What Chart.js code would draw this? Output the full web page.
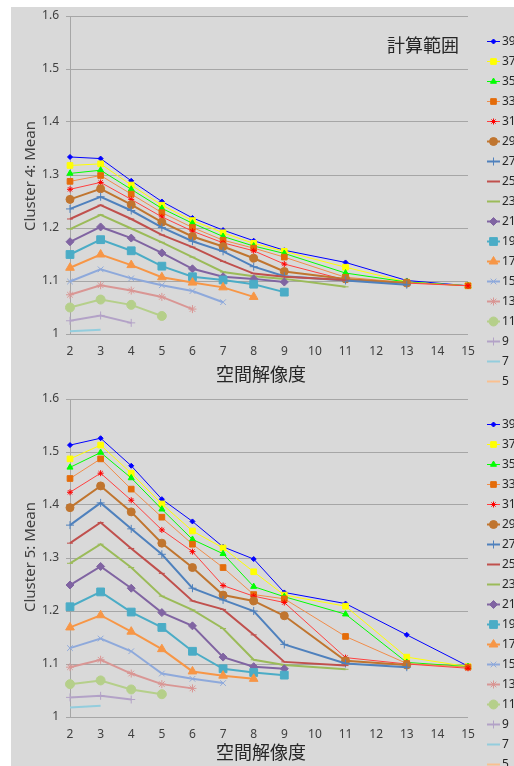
<!DOCTYPE html>
<html>
<head>
<meta charset="utf-8">
<script src="https://cdn.jsdelivr.net/npm/chart.js@4.4.1/dist/chart.umd.min.js"></script>
<style>
    body { margin: 0; background: #ffffff; }
    #bg { position: absolute; left: 11px; top: 7px; width: 503px; height: 759px; background: #d9d9d9; }
    canvas { position: absolute; left: 0; }
    #chart4 { top: 0; }
    #chart5 { top: 383px; }
</style>
</head>
<body>
<div id="bg"></div>
<canvas id="chart4" width="514" height="395"></canvas>
<canvas id="chart5" width="514" height="383"></canvas>
<script>
// x positions (spatial resolution) shared by every series
const resolution = [2, 3, 4, 5, 6, 7, 8, 9, 11, 13, 15];
// calculation range, one series each (legend order)
const ranges = [39, 37, 35, 33, 31, 29, 27, 25, 23, 21, 19, 17, 15, 13, 11, 9, 7, 5];

// Cluster 4: Mean
const c4_39 = [1.334, 1.331, 1.289, 1.250, 1.219, 1.196, 1.176, 1.158, 1.135, 1.101, 1.091];
const c4_37 = [1.318, 1.321, 1.281, 1.243, 1.214, 1.191, 1.171, 1.156, 1.126, 1.098, 1.091];
const c4_35 = [1.303, 1.309, 1.273, 1.237, 1.209, 1.184, 1.166, 1.152, 1.115, 1.098, 1.091];
const c4_33 = [1.288, 1.299, 1.264, 1.229, 1.201, 1.177, 1.162, 1.145, 1.107, 1.097, 1.091];
const c4_31 = [1.273, 1.286, 1.254, 1.221, 1.194, 1.172, 1.157, 1.132, 1.102, 1.096, 1.091];
const c4_29 = [1.254, 1.274, 1.244, 1.211, 1.184, 1.165, 1.143, 1.118, 1.104, 1.096];
const c4_27 = [1.236, 1.259, 1.233, 1.201, 1.175, 1.156, 1.127, 1.109, 1.101, 1.093];
const c4_25 = [1.217, 1.243, 1.217, 1.187, 1.164, 1.137, 1.114, 1.108, 1.102];
const c4_23 = [1.198, 1.225, 1.199, 1.173, 1.145, 1.117, 1.109, 1.104, 1.089];
const c4_21 = [1.174, 1.202, 1.181, 1.153, 1.123, 1.108, 1.104, 1.098];
const c4_19 = [1.150, 1.178, 1.157, 1.128, 1.108, 1.102, 1.094, 1.079];
const c4_17 = [1.125, 1.150, 1.130, 1.107, 1.097, 1.088, 1.070];
const c4_15 = [1.099, 1.122, 1.105, 1.092, 1.081, 1.060];
const c4_13 = [1.074, 1.092, 1.082, 1.070, 1.047];
const c4_11 = [1.050, 1.065, 1.055, 1.034];
const c4_9 = [1.025, 1.035, 1.021];
const c4_7 = [1.005, 1.008];
const c4_5 = [1.000];

// Cluster 5: Mean
const c5_39 = [1.513, 1.526, 1.474, 1.411, 1.369, 1.321, 1.298, 1.235, 1.214, 1.155, 1.096];
const c5_37 = [1.487, 1.513, 1.460, 1.402, 1.351, 1.319, 1.274, 1.230, 1.209, 1.113, 1.095];
const c5_35 = [1.471, 1.499, 1.451, 1.392, 1.335, 1.308, 1.246, 1.227, 1.194, 1.103, 1.095];
const c5_33 = [1.450, 1.487, 1.430, 1.377, 1.326, 1.282, 1.231, 1.223, 1.152, 1.101, 1.094];
const c5_31 = [1.424, 1.460, 1.409, 1.353, 1.312, 1.248, 1.228, 1.216, 1.112, 1.100, 1.092];
const c5_29 = [1.395, 1.436, 1.387, 1.328, 1.282, 1.230, 1.219, 1.191, 1.106, 1.098];
const c5_27 = [1.362, 1.404, 1.355, 1.307, 1.243, 1.221, 1.200, 1.137, 1.101, 1.094];
const c5_25 = [1.328, 1.367, 1.318, 1.271, 1.219, 1.203, 1.155, 1.104, 1.097];
const c5_23 = [1.290, 1.326, 1.282, 1.228, 1.202, 1.167, 1.108, 1.098, 1.090];
const c5_21 = [1.249, 1.284, 1.243, 1.197, 1.172, 1.113, 1.095, 1.091];
const c5_19 = [1.208, 1.236, 1.198, 1.169, 1.124, 1.091, 1.084, 1.079];
const c5_17 = [1.169, 1.192, 1.161, 1.128, 1.086, 1.078, 1.072];
const c5_15 = [1.130, 1.148, 1.124, 1.082, 1.072, 1.064];
const c5_13 = [1.094, 1.108, 1.082, 1.062, 1.054];
const c5_11 = [1.062, 1.069, 1.052, 1.043];
const c5_9 = [1.037, 1.040, 1.033];
const c5_7 = [1.018, 1.021];
const c5_5 = [1.004];

const cluster4 = [c4_39, c4_37, c4_35, c4_33, c4_31, c4_29, c4_27, c4_25, c4_23, c4_21, c4_19, c4_17, c4_15, c4_13, c4_11, c4_9, c4_7, c4_5];
const cluster5 = [c5_39, c5_37, c5_35, c5_33, c5_31, c5_29, c5_27, c5_25, c5_23, c5_21, c5_19, c5_17, c5_15, c5_13, c5_11, c5_9, c5_7, c5_5];

// line colour, marker colour, marker style, marker radius, line width
const styles = [
    ["#0000ff", "#0000ff", "rectRot", 2.5, 1],
    ["#ffff00", "#ffff00", "rect", 4, 1],
    ["#00ff00", "#00ff00", "triangle", 3.5, 1],
    ["#f08c4a", "#e46c0a", "rect", 4, 1],
    ["#ff4040", "#ff0000", "star", 3, 1],
    ["#c0752f", "#c0752f", "circle", 4, 2],
    ["#4f81bd", "#4f81bd", "cross", 4, 2],
    ["#c0504d", "#c0504d", "line", 3, 2],
    ["#9bbb59", "#9bbb59", "line", 3, 2],
    ["#8064a2", "#8064a2", "rectRot", 4, 2],
    ["#4bacc6", "#4bacc6", "rect", 5.5, 2],
    ["#f79646", "#f79646", "triangle", 5, 2],
    ["#8ea9db", "#8ea9db", "crossRot", 4, 2],
    ["#d99694", "#d99694", "star", 4, 2],
    ["#b5cf8a", "#b5cf8a", "circle", 4.5, 2],
    ["#b3a2c7", "#b3a2c7", "cross", 4, 2],
    ["#93cddd", "#93cddd", "circle", 0, 2],
    ["#fac090", "#fac090", "circle", 0, 2]
];

const FONT = "'Noto Sans', 'DejaVu Sans', sans-serif";
const CJK = "'Noto Sans CJK JP', 'Noto Sans CJK SC', sans-serif";

const extras = {
    id: "extras",
    afterDraw(chart, args, opts) {
        const ctx = chart.ctx;
        ctx.save();
        // y axis title
        ctx.fillStyle = "#404040";
        ctx.font = `15px ${FONT}`;
        ctx.textAlign = "center";
        ctx.textBaseline = "middle";
        ctx.translate(31, opts.yTitleY);
        ctx.rotate(-Math.PI / 2);
        ctx.fillText(opts.yTitle, 0, 0);
        ctx.restore();

        ctx.save();
        ctx.fillStyle = "#262626";
        ctx.font = `18px ${CJK}`;
        ctx.textAlign = "center";
        ctx.textBaseline = "middle";
        ctx.fillText("空間解像度", 261, opts.xTitleY);
        if (opts.note) ctx.fillText("計算範囲", 423, 45);

        // legend
        ctx.font = `12px ${FONT}`;
        ctx.textAlign = "left";
        chart.data.datasets.forEach((ds, i) => {
            const y = 41.5 + 20 * i;
            ctx.strokeStyle = ds.borderColor;
            ctx.lineWidth = ds.borderWidth;
            ctx.beginPath();
            ctx.moveTo(487, y);
            ctx.lineTo(500, y);
            ctx.stroke();
            if (ds.pointRadius > 0) {
                ctx.fillStyle = ds.pointBackgroundColor;
                ctx.strokeStyle = ds.pointBorderColor;
                ctx.lineWidth = 1;
                Chart.helpers.drawPoint(ctx, { pointStyle: ds.pointStyle, rotation: 0, radius: ds.pointRadius, borderWidth: 1 }, 493.5, y);
            }
            ctx.fillStyle = "#262626";
            ctx.fillText(ds.label, 502, y + 0.5);
        });
        ctx.restore();
    }
};

function makeChart(id, values, canvasHeight, yTitle, yTitleY, xTitleY, note) {
    const datasets = values.map((vals, i) => {
        const [line, mark, shape, radius, width] = styles[i];
        return {
            label: String(ranges[i]),
            data: vals.map((v, k) => ({ x: resolution[k], y: v })),
            showLine: true,
            borderColor: line,
            borderWidth: width,
            pointBackgroundColor: mark,
            pointBorderColor: mark,
            pointBorderWidth: 1,
            pointStyle: shape,
            pointRadius: radius,
            tension: 0,
            clip: false,
            order: values.length - i
        };
    });
    return new Chart(document.getElementById(id), {
        type: "scatter",
        data: { datasets },
        options: {
            responsive: false,
            animation: false,
            devicePixelRatio: 1,
            layout: { padding: { left: 0, right: 46, top: 16, bottom: 0 } },
            plugins: {
                legend: { display: false },
                tooltip: { enabled: false },
                extras: { yTitle, yTitleY, xTitleY, note }
            },
            scales: {
                x: {
                    type: "linear",
                    min: 2,
                    max: 15,
                    afterFit: (scale) => { scale.height = canvasHeight - 334; },
                    grid: { display: false, drawTicks: false },
                    border: { display: false },
                    ticks: {
                        stepSize: 1,
                        autoSkip: false,
                        maxRotation: 0,
                        padding: 10,
                        color: "#404040",
                        font: { family: FONT, size: 12 }
                    }
                },
                y: {
                    type: "linear",
                    min: 1,
                    max: 1.6,
                    afterFit: (scale) => { scale.width = 70; },
                    grid: { color: "#a6a6a6", lineWidth: 1, tickLength: 4 },
                    border: { display: true, color: "#a6a6a6", width: 1 },
                    ticks: {
                        stepSize: 0.1,
                        padding: 7,
                        color: "#404040",
                        font: { family: FONT, size: 12 },
                        callback: (v) => String(Math.round(v * 10) / 10)
                    }
                }
            }
        },
        plugins: [extras]
    });
}

makeChart("chart4", cluster4, 395, "Cluster 4: Mean", 176, 374, true);
makeChart("chart5", cluster5, 383, "Cluster 5: Mean", 174, 369, false);
</script>
</body>
</html>
